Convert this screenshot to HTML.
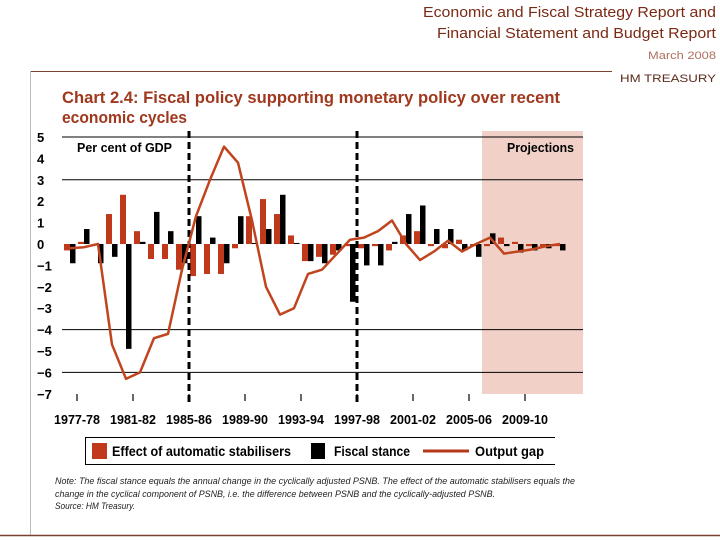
<!DOCTYPE html>
<html><head><meta charset="utf-8"><style>
body{margin:0;width:720px;height:540px;background:#fff;overflow:hidden;font-family:"Liberation Sans",sans-serif;}
svg{display:block}
</style></head><body>
<svg width="720" height="540">
<text x="423" y="17" textLength="293" lengthAdjust="spacingAndGlyphs" font-size="15" fill="#7a2a14">Economic and Fiscal Strategy Report and</text>
<text x="437" y="38" textLength="279" lengthAdjust="spacingAndGlyphs" font-size="15" fill="#7a2a14">Financial Statement and Budget Report</text>
<text x="648" y="59" textLength="68" lengthAdjust="spacingAndGlyphs" font-size="11" fill="#b07060">March 2008</text>
<text x="620" y="82" textLength="96" lengthAdjust="spacingAndGlyphs" font-size="11" fill="#5a2a1a">HM TREASURY</text>
<line x1="30" y1="71.5" x2="612" y2="71.5" stroke="#7a4030" stroke-width="1"/>
<line x1="30.5" y1="71" x2="30.5" y2="535" stroke="#bbb" stroke-width="1"/>
<line x1="0" y1="535.5" x2="720" y2="535.5" stroke="#7a4030" stroke-width="1.5"/>
<text x="62" y="103" textLength="498" lengthAdjust="spacingAndGlyphs" font-size="17" font-weight="bold" fill="#a0381e">Chart 2.4: Fiscal policy supporting monetary policy over recent</text>
<text x="62" y="123" textLength="125" lengthAdjust="spacingAndGlyphs" font-size="17" font-weight="bold" fill="#a0381e">economic cycles</text>
<g id="plot"></g>
<g>
<path d="M555 437.5 H85.5 V464.5 H555" fill="none" stroke="#000" stroke-width="1"/>
<rect x="92" y="443" width="15" height="16" fill="#c0391b"/>
<text x="112" y="456" textLength="179" lengthAdjust="spacingAndGlyphs" font-size="14" font-weight="bold">Effect of automatic stabilisers</text>
<rect x="311" y="443" width="14" height="16" fill="#000"/>
<text x="334" y="456" textLength="76" lengthAdjust="spacingAndGlyphs" font-size="14" font-weight="bold">Fiscal stance</text>
<line x1="423" y1="451" x2="469" y2="451" stroke="#b5381a" stroke-width="3"/>
<text x="475" y="456" textLength="69" lengthAdjust="spacingAndGlyphs" font-size="14" font-weight="bold">Output gap</text>
</g>
<text x="55" y="484" textLength="520" lengthAdjust="spacingAndGlyphs" font-size="9.5" font-style="italic" fill="#222">Note: The fiscal stance equals the annual change in the cyclically adjusted PSNB. The effect of the automatic stabilisers equals the</text>
<text x="55" y="497" textLength="440" lengthAdjust="spacingAndGlyphs" font-size="9.5" font-style="italic" fill="#222">change in the cyclical component of PSNB, i.e. the difference between PSNB and the cyclically-adjusted PSNB.</text>
<text x="55" y="509" textLength="80" lengthAdjust="spacingAndGlyphs" font-size="9.5" font-style="italic" fill="#222">Source: HM Treasury.</text>
</svg>
<script>
const stabilisers=[-0.3,0.1,0,1.4,2.3,0.6,-0.7,-0.7,-1.2,-1.5,-1.4,-1.4,-0.2,1.3,2.1,1.4,0.4,-0.8,-0.6,-0.5,-0.1,-0.2,-0.1,-0.3,0.4,0.6,-0.1,-0.2,0.2,-0.1,-0.1,0.3,0.1,-0.1,-0.1,-0.1];
const fiscalStance=[-0.9,0.7,-0.9,-0.6,-4.9,0.1,1.5,0.6,-0.9,1.3,0.3,-0.9,1.3,0.05,0.7,2.3,0.05,-0.8,-0.9,-0.3,-2.7,-1.0,-1.0,0.1,1.4,1.8,0.7,0.7,-0.3,-0.6,0.5,-0.1,-0.4,-0.3,-0.2,-0.3];
const outputGap=[-0.2,-0.15,0,-4.7,-6.3,-6.0,-4.4,-4.2,-1.2,1.3,3.0,4.55,3.8,1.1,-2.0,-3.3,-3.0,-1.4,-1.2,-0.5,0.2,0.3,0.6,1.1,0,-0.75,-0.35,0.15,-0.35,0,0.3,-0.45,-0.35,-0.25,-0.1,0];
const yTicks=[5,4,3,2,1,0,-1,-2,-3,-4,-5,-6,-7];
const gridValues=[5,3,-4,-6];
const xLabels=["1977-78","1981-82","1985-86","1989-90","1993-94","1997-98","2001-02","2005-06","2009-10"];
const cycleBreaks=[8.5,20.5];
const projectionStart=29.5;

const NS="http://www.w3.org/2000/svg";
const g=document.getElementById('plot');
const y=v=>244-21.4*v;
const x=i=>70+14*i;
const tickX=k=>77+56*k;
function mk(t,a){const e=document.createElementNS(NS,t);for(const k in a)e.setAttribute(k,a[k]);g.appendChild(e);return e;}
let e;
e=mk('rect',{x:x(projectionStart)-1,y:131,width:583-x(projectionStart)+1,height:263,fill:'#f1d0c8'});


e=mk('text',{x:507,y:152,textLength:67,lengthAdjust:'spacingAndGlyphs','font-size':13,'font-weight':'bold'});e.textContent='Projections';


e=mk('text',{x:77,y:152,textLength:95,lengthAdjust:'spacingAndGlyphs','font-size':13,'font-weight':'bold'});e.textContent='Per cent of GDP';


gridValues.forEach(v=>{e=mk('line',{x1:62,x2:583,y1:y(v),y2:y(v),stroke:'#000','stroke-width':1});

});
yTicks.forEach(v=>{e=mk('text',{x:37,y:y(v)+5,'font-size':13,'font-weight':'bold'});e.textContent=v<0?'\u2212'+(-v):String(v);

});
stabilisers.forEach((v,i)=>{e=mk('rect',{x:x(i)-6,y:Math.min(y(v),y(0)),width:6,height:Math.abs(y(v)-y(0)),fill:'#c0391b'});

});
fiscalStance.forEach((v,i)=>{e=mk('rect',{x:x(i),y:Math.min(y(v),y(0)),width:5.5,height:Math.abs(y(v)-y(0)),fill:'#000'});

});
cycleBreaks.forEach(c=>{e=mk('line',{x1:x(c),x2:x(c),y1:131,y2:402,stroke:'#000','stroke-width':3,'stroke-dasharray':'7,4'});

});
e=mk('polyline',{points:outputGap.map((v,i)=>x(i)+','+y(v)).join(' '),fill:'none',stroke:'#c0441e','stroke-width':2.5,'stroke-linejoin':'round'});


xLabels.forEach((l,k)=>{e=mk('line',{x1:tickX(k),x2:tickX(k),y1:394,y2:401,stroke:'#000','stroke-width':1.2});


e=mk('text',{x:tickX(k)-23,y:424,textLength:46,lengthAdjust:'spacingAndGlyphs','font-size':13,'font-weight':'bold'});e.textContent=l;

});
</script>
</body></html>
